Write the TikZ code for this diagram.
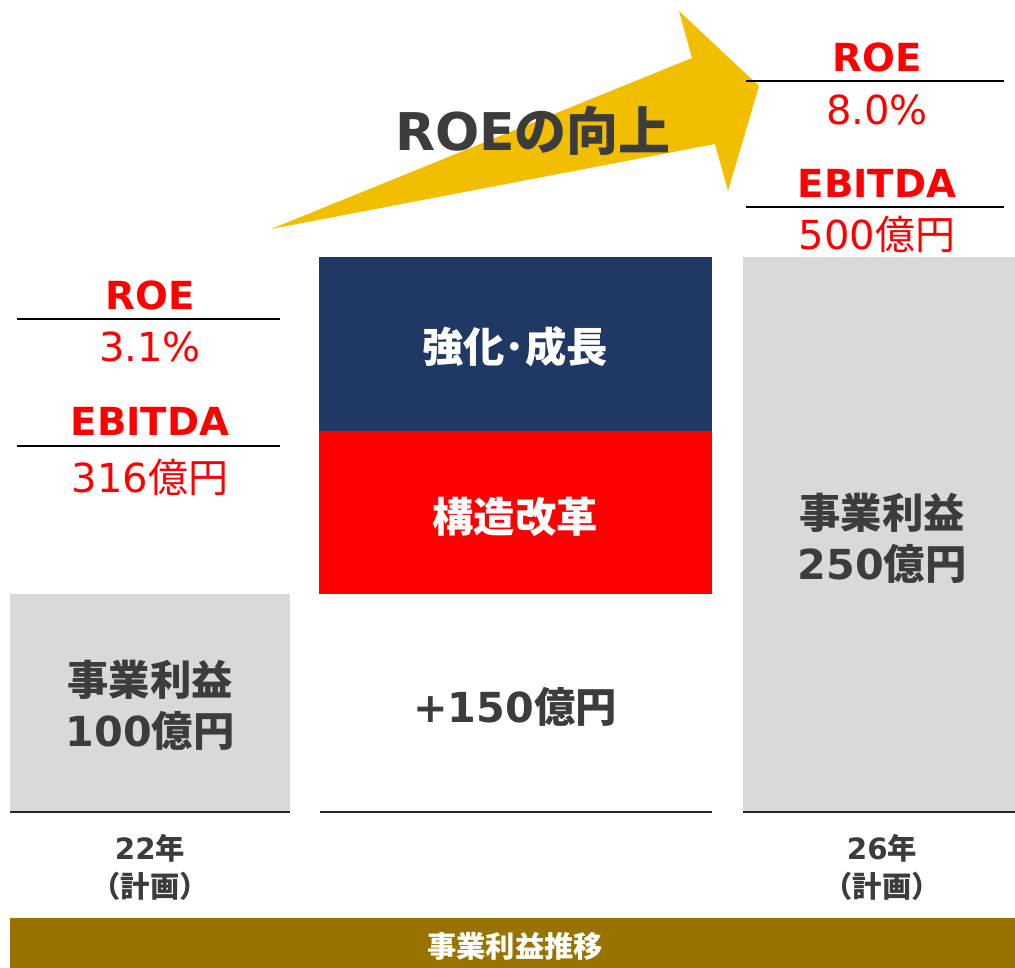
\documentclass[tikz,border=0pt]{standalone}
\usepackage{fontspec}
\setmainfont{DejaVu Sans}
\newfontfamily\jp{Noto Sans CJK JP}
\definecolor{barGray}{HTML}{D9D9D9}
\definecolor{navy}{HTML}{203864}
\definecolor{olive}{HTML}{987300}
\definecolor{gold}{HTML}{F2BE00}
\definecolor{txtGray}{HTML}{3C3C3C}
\definecolor{pureRed}{HTML}{FF0000}
\tikzset{
  lbl/.style={text=pureRed, inner sep=0pt, anchor=center},
  rule/.style={draw=black, line width=1.6pt},
  base/.style={draw=black!85, line width=1.2pt},
  big/.style={font=\bfseries\fontsize{31}{38}\selectfont, align=center, inner sep=0pt},
}
\begin{document}
\begin{tikzpicture}[x=0.75pt,y=-0.75pt]
\useasboundingbox (0,0) rectangle (1015,968);
% arrow
\fill[gold] (271,229) -- (692,58) -- (679,11) -- (759,86) -- (728,191) -- (715,144) -- cycle;
\node[font=\bfseries\fontsize{39}{46}\selectfont, text=txtGray, inner sep=0pt] (title) at (533,131) {ROE{\jp の向上}};
% bars
\fill[barGray] (10,594) rectangle (290,812);
\fill[navy] (319,257) rectangle (712,431);
\fill[pureRed] (319,431) rectangle (712,594);
\fill[barGray] (743,257) rectangle (1015,812);
% baselines
\coordinate (b1) at (10,812); \coordinate (b2) at (290,812);
\coordinate (b3) at (320,812); \coordinate (b4) at (712,812);
\coordinate (b5) at (743,812); \coordinate (b6) at (1015,812);
\draw[base] (b1) -- (b2);
\draw[base] (b3) -- (b4);
\draw[base] (b5) -- (b6);
% bar texts
\node[big, text=txtGray] (leftbar) at (150,705) {{\jp 事業利益}\\100{\jp 億円}};
\node[big, text=white] (grow) at (515,347) {\jp 強化･成長};
\node[big, text=white] (reform) at (515,517) {\jp 構造改革};
\node[big, text=txtGray] (plus) at (515,707) {+150{\jp 億円}};
\node[big, text=txtGray] (rightbar) at (882,538) {{\jp 事業利益}\\250{\jp 億円}};
% left labels
\node[lbl, font=\bfseries\fontsize{29}{34}\selectfont] (roeL) at (150,295) {ROE};
\coordinate (r1a) at (17,319); \coordinate (r1b) at (280,319);
\draw[rule] (r1a) -- (r1b);
\node[lbl, font=\fontsize{30}{34}\selectfont] (roeLv) at (150,347) {3.1\%};
\node[lbl, font=\bfseries\fontsize{29}{34}\selectfont] (ebL) at (150,421) {EBITDA};
\coordinate (r2a) at (17,446); \coordinate (r2b) at (280,446);
\draw[rule] (r2a) -- (r2b);
\node[lbl, font=\fontsize{30}{34}\selectfont] (ebLv) at (150,477) {316{\jp 億円}};
% right labels
\node[lbl, font=\bfseries\fontsize{29}{34}\selectfont] (roeR) at (877,57) {ROE};
\coordinate (r3a) at (746,81); \coordinate (r3b) at (1004,81);
\draw[rule] (r3a) -- (r3b);
\node[lbl, font=\fontsize{30}{34}\selectfont] (roeRv) at (877,110) {8.0\%};
\node[lbl, font=\bfseries\fontsize{29}{34}\selectfont] (ebR) at (877,183) {EBITDA};
\coordinate (r4a) at (746,207); \coordinate (r4b) at (1004,207);
\draw[rule] (r4a) -- (r4b);
\node[lbl, font=\fontsize{30}{34}\selectfont] (ebRv) at (877,234) {500{\jp 億円}};
% years
\node[font=\bfseries\fontsize{22}{28.5}\selectfont, text=txtGray, align=center, inner sep=0pt] (y22) at (150,867) {22{\jp 年}\\{\jp （計画）}};
\node[font=\bfseries\fontsize{22}{28.5}\selectfont, text=txtGray, align=center, inner sep=0pt] (y26) at (882,867) {26{\jp 年}\\{\jp （計画）}};
% bottom bar
\fill[olive] (10,918) rectangle (1015,968);
\node[font=\jp\bfseries\fontsize{22}{26}\selectfont, text=white, inner sep=0pt] (foot) at (515,946) {事業利益推移};
\end{tikzpicture}
\end{document}
